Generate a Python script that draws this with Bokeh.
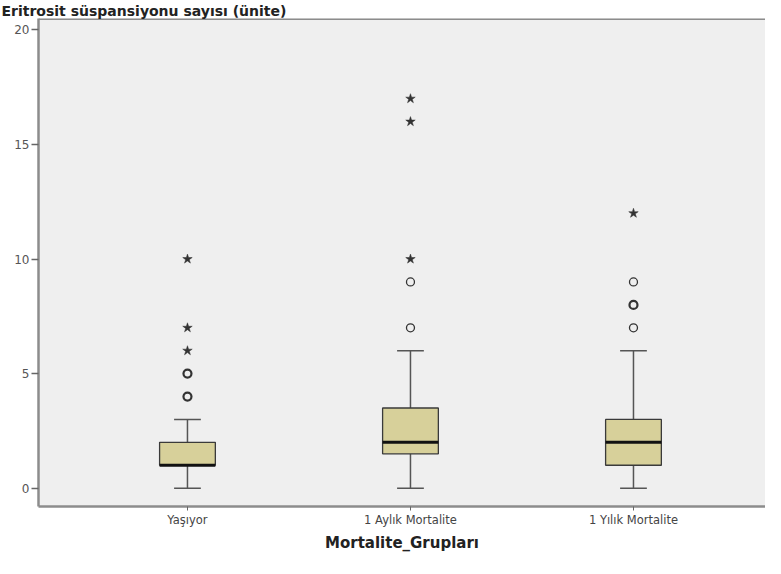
from bokeh.plotting import figure
from bokeh.models import Range1d, FixedTicker, Span
from bokeh.embed import file_html
from bokeh.resources import INLINE

# ---- data ----
groups = ["Yaşıyor", "1 Aylık Mortalite", "1 Yılık Mortalite"]
whisker_low = [0, 0, 0]
q1 = [1, 1.5, 1]
median = [1, 2, 2]
q3 = [2, 3.5, 3]
whisker_high = [3, 6, 6]

# outliers (circles): group index, value, number of overlapping cases
circle_group = [0, 0, 1, 1, 2, 2, 2]
circle_vals = [4, 5, 7, 9, 7, 8, 9]
circle_count = [3, 2, 1, 1, 1, 2, 1]

# extremes (stars): group index, value
star_group = [0, 0, 0, 1, 1, 1, 2]
star_vals = [6, 7, 10, 10, 16, 17, 12]

y_ticks = [0, 5, 10, 15, 20]

y_title = "Eritrosit süspansiyonu sayısı (ünite)"
x_title = "Mortalite_Grupları"

# ---- layout ----
pos = [i + 1 for i in range(len(groups))]
x_start, x_end = 0.332, 3.592
y_start, y_end = -0.8, 20.5
box_w = 0.25
cap_w = 0.12

FONT = "DejaVu Sans"

p = figure(width=765, height=558, output_backend="svg", toolbar_location=None,
           x_range=Range1d(x_start, x_end), y_range=Range1d(y_start, y_end),
           min_border_left=38, min_border_right=0, min_border_top=0,
           min_border_bottom=52,
           background_fill_color="#efefef", border_fill_color="white")
p.outline_line_color = None
p.xgrid.visible = False
p.ygrid.visible = False

p.title.text = y_title
p.title.align = "left"
p.title.offset = -37
p.title.standoff = 0
p.title.text_font = FONT
p.title.text_font_style = "bold"
p.title.text_font_size = "14px"
p.title.text_color = "#222222"

# top frame line
p.add_layout(Span(location=y_end, dimension="width", line_color="#8c8c8c",
                  line_width=3))

# whiskers
p.segment(x0=pos, y0=q3, x1=pos, y1=whisker_high, line_color="#555555",
          line_width=1.5)
p.segment(x0=pos, y0=whisker_low, x1=pos, y1=q1, line_color="#555555",
          line_width=1.5)
p.segment(x0=[x - cap_w / 2 for x in pos], y0=whisker_high,
          x1=[x + cap_w / 2 for x in pos], y1=whisker_high,
          line_color="#555555", line_width=1.5)
p.segment(x0=[x - cap_w / 2 for x in pos], y0=whisker_low,
          x1=[x + cap_w / 2 for x in pos], y1=whisker_low,
          line_color="#555555", line_width=1.5)

# boxes
p.vbar(x=pos, width=box_w, bottom=q1, top=q3, fill_color="#d7d09a",
       line_color="#3a3a3a", line_width=1.3)
# medians
p.segment(x0=[x - box_w / 2 for x in pos], y0=median,
          x1=[x + box_w / 2 for x in pos], y1=median,
          line_color="#111111", line_width=3)

# outliers
cx = [pos[g] for g in circle_group]
cw = [2.2 if c > 1 else 1.3 for c in circle_count]
p.scatter(x=cx, y=circle_vals, marker="circle", size=8, fill_color=None,
          line_color="#333333", line_width=cw)
sx = [pos[g] for g in star_group]
p.scatter(x=sx, y=star_vals, marker="star", size=10, fill_color="#333333",
          line_color="#333333", line_width=0.5)

# axes
ya = p.yaxis[0]
ya.ticker = FixedTicker(ticks=y_ticks)
ya.minor_tick_line_color = None
ya.major_tick_in = 0
ya.major_tick_out = 7
ya.major_tick_line_color = "#666666"
ya.major_tick_line_width = 1.5
ya.axis_line_color = "#8c8c8c"
ya.axis_line_width = 2.5
ya.major_label_text_font = FONT
ya.major_label_text_font_size = "12px"
ya.major_label_text_color = "#555555"
ya.major_label_standoff = 2

xa = p.xaxis[0]
xa.ticker = FixedTicker(ticks=pos)
xa.major_label_overrides = {x: g for x, g in zip(pos, groups)}
xa.minor_tick_line_color = None
xa.major_tick_in = 0
xa.major_tick_out = 4
xa.major_tick_line_color = "#666666"
xa.axis_line_color = "#8c8c8c"
xa.axis_line_width = 2.5
xa.major_label_text_font = FONT
xa.major_label_text_font_size = "11.5px"
xa.major_label_text_color = "#444444"
xa.major_label_standoff = 2
xa.axis_label = x_title
xa.axis_label_text_font = FONT
xa.axis_label_text_font_style = "bold"
xa.axis_label_text_font_size = "15px"
xa.axis_label_text_color = "#222222"
xa.axis_label_standoff = 4

open("out.html", "w").write(file_html(p, INLINE))
